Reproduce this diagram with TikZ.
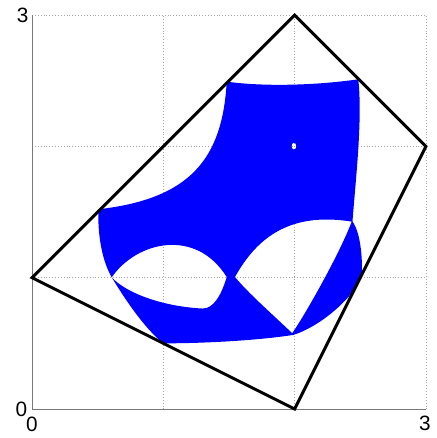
\documentclass[tikz,border=0pt]{standalone}
\usepackage{tikz}
\usepackage{xcolor}
\usepackage{fontspec}
\setmainfont{Liberation Sans}
\definecolor{flateblaa}{RGB}{0,0,255}
\definecolor{aksegraa}{RGB}{120,120,120}

\begin{document}
\begin{tikzpicture}[x=4cm, y=4cm, every node/.style={font=\fontsize{18}{20}\selectfont, inner sep=0pt}]
  \useasboundingbox (-0.2437,-0.2209) rectangle (3.0845,3.115);
  % Rutenett
  \foreach \k in {1,2,3} {
    \draw[dotted, gray!70, line width=0.5pt] (\k,0) -- (\k,3);
    \draw[dotted, gray!70, line width=0.5pt] (0,\k) -- (3,\k);
  }
  % Akser
  \draw[aksegraa, line width=0.8pt] (0,3) -- (0,0) -- (3,0);
  \node[anchor=east] (y0) at (-0.035,0) {0};
  \node[anchor=east] (y3) at (-0.025,3) {3};
  \node[anchor=north] (x0) at (0,-0.06) {0};
  \node[anchor=north] (x3) at (2.993,-0.055) {3};
  % Blaatt omraade med hull
  \fill[flateblaa, even odd rule]
    (1.483,2.493) .. controls (1.80,2.45) and (2.20,2.47) .. (2.485,2.511)
    .. controls (2.52,2.20) and (2.46,1.70) .. (2.441,1.427)
    .. controls (2.50,1.35) and (2.52,1.15) .. (2.511,1.008)
    .. controls (2.45,0.85) and (2.20,0.63) .. (1.990,0.564)
    .. controls (1.70,0.52) and (1.30,0.50) .. (1.000,0.500)
    .. controls (0.85,0.62) and (0.70,0.85) .. (0.607,1.003)
    .. controls (0.54,1.12) and (0.50,1.30) .. (0.505,1.521)
    .. controls (1.20,1.60) and (1.45,1.90) .. (1.483,2.493) -- cycle
    % venstre hull
    (0.607,1.003) .. controls (0.80,1.28) and (1.25,1.38) .. (1.483,1.005)
    .. controls (1.44,0.86) and (1.38,0.765) .. (1.300,0.765)
    .. controls (1.00,0.78) and (0.72,0.88) .. (0.607,1.003) -- cycle
    % hoyre hull
    (1.546,1.005) .. controls (1.72,1.32) and (1.98,1.50) .. (2.435,1.427)
    .. controls (2.35,1.20) and (2.10,0.75) .. (1.982,0.577)
    .. controls (1.80,0.75) and (1.65,0.88) .. (1.546,1.005) -- cycle
    % lite hull
    (1.995,2.002) ellipse [x radius=0.018, y radius=0.026];
  % Firkant
  \draw[line width=2.6pt, line join=miter] (0,1) -- (2,3) -- (3,2) -- (2,0) -- cycle;
\end{tikzpicture}
\end{document}
